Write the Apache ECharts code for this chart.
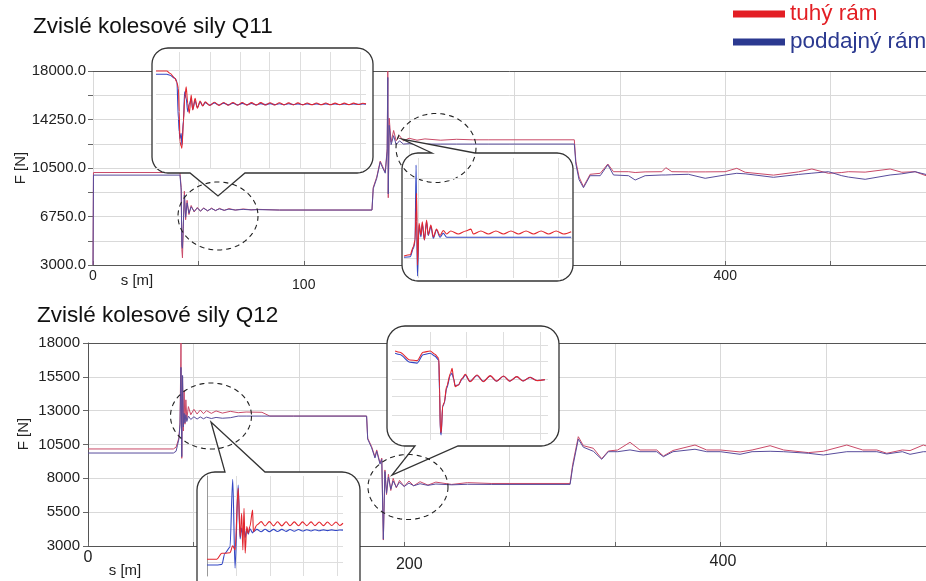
<!DOCTYPE html>
<html><head><meta charset="utf-8">
<script src="https://cdn.jsdelivr.net/npm/echarts@6/dist/echarts.min.js"></script>
<style>html,body{margin:0;padding:0;background:#fff}#c{width:926px;height:581px}</style>
</head><body><div id="c"></div>
<script>
// ---------------- DATA ----------------
// Q11 main chart: s [m], tuhý rám (red), poddajný rám (blue) [N]
const s11 = [0,0.3,55.0,55.8,56.2,56.6,57.1,57.8,58.6,59.5,
 60.7,62.1,64,66,68,70,72.5,75,77.5,80,
 83,86,90,95,100,105,118,176.5,177.3,179.5,
 181.7,183.3,184.9,186.1,186.5,186.8,187.4,188.6,190.2,191.8,
 193.9,196.4,200,205,210,220,230,240,250,304.5,
 305.5,307.5,310.3,314.5,320.9,325.7,329.3,338.8,343.0,349.3,
 359.9,362.4,366.2,376.7,387.3,399.9,407.3,412.6,430.5,446.3,
 454.8,465.3,473.7,477.9,488.5,504.3,511.7,520.1,527];
const red11 = [3000,10150,10150,9000,4200,3550,5800,8700,6500,8000,
 6900,7600,7100,7450,7150,7420,7180,7400,7200,7380,
 7220,7360,7250,7330,7270,7300,7250,7250,9000,9800,
 11040,10600,10190,12000,18000,8200,14350,12500,13400,12600,
 13000,12600,12800,12650,12750,12650,12720,12680,12680,12680,
 11000,9800,9054,10013,10090,10809,10214,10214,10150,10200,
 10214,10523,10214,10200,10200,10214,10477,10170,9950,10200,
 10423,10090,10150,10214,10180,10423,10170,10214,9905];
const blue11 = [3000,9950,9950,8800,4500,4300,6000,8400,6700,7800,
 7000,7500,7150,7400,7180,7380,7200,7360,7220,7340,
 7230,7320,7250,7300,7260,7280,7250,7250,8900,9700,
 10950,10500,10100,11800,17500,8500,13800,12300,13000,12300,
 12600,12350,12380,12350,12350,12350,12350,12350,12350,12350,
 10800,9600,8977,9905,9905,10750,9959,9905,9572,9905,
 9959,9959,9980,10013,9703,9959,10090,10050,9781,10000,
 10100,10214,9905,9800,9626,9959,10050,10214,10000];

// Q12 main chart
const s12 = [0,54.0,55.7,56.5,57.5,58.2,58.8,59.3,59.8,60.3,
 60.8,61.3,61.9,62.5,63.5,65,67,69,71,73,
 75,78,81,85,90,95,100,110,115,130,
 176.2,176.9,179.4,181.5,182.6,184.7,185.8,186.8,187.8,188.8,
 190,191.5,193,195,197,200,203,206,210,215,
 220,230,240,255,304.9,306.5,310.1,313.3,319.6,324.9,
 329.1,335,342.8,349.1,359.7,363.9,370,383.9,391.3,400,
 412.4,420,431.4,440,455.6,465.1,479.9,490,498.9,505.2,
 515,519.9,528.3,530];
const red12 = [10170,10170,10300,10600,11000,12100,18000,9480,15500,11500,
 14500,12000,13800,12400,13300,12700,13100,12750,13050,12780,
 13000,12800,12980,12820,12950,12850,12900,12880,12600,12600,
 12600,10960,10340,9600,10100,9130,9500,3440,8620,6800,
 8300,7100,8000,7300,7850,7400,7800,7450,7750,7500,
 7720,7550,7680,7620,7620,9000,11077,10412,10220,9450,
 10020,10094,10663,10094,10094,9650,10060,10463,10094,10094,
 9950,10094,10412,10094,9900,10000,10463,10094,10094,9850,
 10094,10050,10463,10400];
const blue12 = [9870,9870,10000,10400,10900,12000,16200,9600,15600,11800,
 12800,12100,12700,12200,12600,12350,12550,12380,12540,12400,
 12520,12420,12500,12440,12480,12600,12600,12600,12600,12600,
 12600,10900,10250,9500,10000,9050,9400,3500,8500,6900,
 8100,7200,7800,7350,7700,7400,7650,7450,7600,7480,
 7580,7520,7560,7550,7550,8800,10900,10300,10000,9407,
 9968,9968,10100,9968,9968,9599,9968,10150,9968,9968,
 9776,9968,10000,9968,9850,9724,9968,9968,9968,9800,
 9968,9776,9968,9968];

// Inset 1 (Q11, detail around the first drop)
const sIn1 = [50.0,52.8,53.6,54.9,55.4,55.8,56.0,56.2,56.5,56.7,
 57.1,57.4,57.8,58.2,58.6,59.1,59.5,60.1,60.7,61.4,
 62.1,62.7,63.9,65.1,66.3,67.5,68.7,69.9,71.1,72.3,
 73.5,74.7,75.9,77.1,78.3,79.5,80.7,81.9,83.1,84.3,
 85.5,86.7,87.9,89.1,90.3,91.5,92.7,93.9,95.1,96.3,
 97.5,98.7,99.9,101.1,102.3,103.5,104.3];
const redIn1 = [9944,9944,9756,9346,9000,8527,6611,4153,3800,3613,
 5792,7600,8658,7299,6480,7978,6750,7708,6889,7487,
 7077,7430,7120,7380,7130,7370,7140,7360,7140,7360,
 7150,7350,7150,7350,7160,7340,7160,7340,7170,7330,
 7170,7330,7170,7320,7180,7320,7180,7320,7180,7310,
 7190,7310,7190,7310,7200,7300,7250];
const blueIn1 = [9674,9674,9600,9350,9100,6000,4973,4400,4841,3883,
 5950,8249,7700,6611,7200,7708,6800,7500,6950,7400,
 7100,7350,7150,7330,7160,7310,7170,7300,7170,7290,
 7180,7280,7180,7270,7190,7270,7190,7260,7190,7260,
 7200,7250,7200,7250,7200,7250,7200,7250,7200,7240,
 7200,7240,7200,7240,7210,7240,7220];

// Inset 2 (Q11, detail after the rise)
const sIn2 = [181.8,184.1,185.3,185.9,186.3,186.5,186.8,187.4,188.1,188.6,
 189.4,190.2,190.8,191.8,192.7,193.9,195.2,196.4,197.7,199.2,
 202.0,204.8,206.7,207.6,210.4,213.2,216.0,218.8,221.6,224.4,
 227.2,230.0,232.8,235.6,238.4,241.2,244.0];
const redIn2 = [10906,11000,11631,12154,14500,15800,10200,13457,12544,13581,
 12154,13714,12544,13324,12400,13000,12500,12900,12620,12860,
 12620,12860,13000,12620,12860,12620,12860,12620,12860,12620,
 12860,12620,12860,12620,12860,12620,12800];
const blueIn2 = [10805,10850,11500,12000,18004,13600,9346,13300,12400,13400,
 12154,13600,12500,13200,12287,12934,12365,12677,12365,12365,
 12365,12365,12365,12365,12365,12365,12365,12365,12365,12365,
 12365,12365,12365,12365,12365,12365,12365];

// Inset 3 (Q12, detail around the drop)
const sIn3 = [181.0,181.6,182.9,183.8,184.6,185.5,186.1,186.6,186.7,186.8,
 186.9,187.1,187.3,187.6,188.1,188.3,188.5,188.7,189.1,189.6,
 190.0,190.6,191.5,192.3,193.2,194.0,194.9,195.7,196.6,197.4,
 198.3,199.2,200.2];
const redIn3 = [9686,9589,9016,8963,9589,9686,9440,9142,7026,3800,
 3600,5600,5850,7026,8025,8397,7652,7026,7153,7652,
 7950,7399,7898,7399,7846,7429,7823,7429,7771,7451,
 7727,7473,7548];
const blueIn3 = [9515,9420,8850,8780,9400,9520,9300,9000,6500,3700,
 3428,5536,5790,6900,7900,8025,7600,7100,7150,7600,
 7900,7420,7860,7420,7820,7440,7800,7440,7760,7460,
 7720,7480,7540];

// Inset 4 (Q12, detail around the rise)
const sIn4 = [52.2,53.8,54.7,56.0,56.8,58.1,58.8,59.4,60.2,60.7,
 61.1,61.4,61.7,62.0,62.4,62.8,63.2,63.9,64.1,65.0,
 66.1,67.1,68.2,69.3,70.3,71.4,72.5,73.5,74.6,75.7,
 76.7,77.8,78.9,79.9,81.0,82.1,83.1,84.2,85.3,86.3,87.1];
const redIn4 = [10323,10323,10323,10761,10761,10800,11300,11000,15500,11973,
 13681,11002,14046,10761,12703,12221,12703,13922,12338,12827,
 13068,12754,13068,12760,13060,12760,13060,12770,13050,12770,
 13050,12780,13050,12780,13040,12780,13040,12790,13040,12790,12950];
const blueIn4 = [9900,9900,9900,9950,10761,11200,16160,9666,15747,11800,
 12600,12100,12800,11900,12500,12150,12550,12250,12338,12500,
 12330,12510,12340,12500,12350,12500,12360,12490,12370,12490,
 12380,12480,12390,12480,12400,12470,12410,12470,12420,12460,12450];

// Tick / label values
const xStep = 200 / 3;
const xLabelsQ11 = ['0', '', '100', '', '', '', '400', ''];
const xLabelsQ12 = ['0', '', '', '200', '', '', '400', ''];
const yTicksQ11 = [3000, 4875, 6750, 8625, 10500, 12375, 14250, 16125, 18000];
const yLabelsQ11 = [3000, 6750, 10500, 14250, 18000];
const yTicksQ12 = [3000, 5500, 8000, 10500, 13000, 15500, 18000];
const in1XGrid = [55.9, 63.9, 71.7, 79.4, 87.2, 95.0, 102.7];
const in1YGrid = [2000, 4000, 6000, 8000, 10000];
const in2XGrid = [187.1, 205.1, 222.3, 239.0];
const in2YGrid = [10750, 12310, 13870, 15430, 16990];
const in3XGrid = [185.5, 190.1, 194.8, 199.6];
const in3YGrid = [3555, 4918, 6281, 7578, 8889, 10133];
const in4XGrid = [59.8, 68.4, 76.9, 85.5];
const in4YGrid = [10100, 11300, 12500, 13700, 14900];

// ---------------- CHART ----------------
const FONT = '"Liberation Sans", Arial, sans-serif';
const RED_MAIN = '#c94a68', BLUE_MAIN = '#584c9c';
const RED_IN = '#e3262e', BLUE_IN = '#3347c4';
const GRIDC = '#d9d9d9';
const chart = echarts.init(document.getElementById('c'));

const pairs = (s, v) => s.map((x, i) => [x, v[i]]);
const lbl = (arr, styleMap) => (v) => {
  const t = arr[Math.round(v / xStep)];
  if (!t) return '';
  return styleMap[t] ? '{' + styleMap[t] + '|' + t + '}' : t;
};

function mainX(gi, max, labels, styleMap, fs, rich) {
  return {
    type: 'value', gridIndex: gi, min: 0, max: max, interval: xStep,
    axisLine: { show: true, lineStyle: { color: '#555', width: 1 } },
    axisTick: { show: true, inside: true, length: 4, lineStyle: { color: '#666' } },
    splitLine: { show: true, lineStyle: { color: GRIDC } },
    axisLabel: { formatter: lbl(labels, styleMap), margin: 4, fontSize: fs, color: '#222',
      fontFamily: FONT, showMinLabel: true, showMaxLabel: false, rich: rich }
  };
}
function frameX(gi, max) {
  return { type: 'value', gridIndex: gi, min: 0, max: max, position: 'top',
    axisLine: { show: true, lineStyle: { color: '#555' } },
    axisTick: { show: false }, axisLabel: { show: false }, splitLine: { show: false } };
}
function mainY(gi, ticks, labels, fmt, showLine, margin) {
  return {
    type: 'value', gridIndex: gi, min: 3000, max: 18000,
    axisLine: { show: showLine, lineStyle: { color: '#555' } },
    axisTick: { show: true, length: 5, customValues: ticks, lineStyle: { color: '#666' } },
    axisLabel: { customValues: labels, formatter: fmt, margin: margin, fontSize: 15,
      color: '#222', fontFamily: FONT },
    splitLine: { show: true, lineStyle: { color: GRIDC } }
  };
}
function insetAxis(gi, min, max, grid, lineShow) {
  return {
    type: 'value', gridIndex: gi, min: min, max: max, z: 7,
    axisLine: { show: !!lineShow, lineStyle: { color: '#999' } },
    axisTick: { show: false, customValues: grid },
    axisLabel: { show: false },
    splitLine: { show: true, lineStyle: { color: '#dedede' } }
  };
}
function line(name, xi, yi, s, v, color, w, z, smooth) {
  return { type: 'line', name: name, xAxisIndex: xi, yAxisIndex: yi, data: pairs(s, v),
    symbol: 'none', showSymbol: false, smooth: smooth || false, smoothMonotone: 'x',
    lineStyle: { width: w, color: color },
    itemStyle: { color: color }, z: z, silent: true, animation: false };
}

// decorative call-out shapes (speech bubbles and dashed ellipses)
function arcPts(cx, cy, r, a0, a1) {
  const out = [];
  for (let k = 0; k <= 8; k++) {
    const a = (a0 + (a1 - a0) * k / 8) * Math.PI / 180;
    out.push([cx + r * Math.cos(a), cy + r * Math.sin(a)]);
  }
  return out;
}
function bubble(x0, y0, x1, y1, r, topTail, bottomTail) {
  let p = [[x0 + r, y0]];
  if (topTail) p = p.concat(topTail);
  p = p.concat(arcPts(x1 - r, y0 + r, r, -90, 0));
  p = p.concat(arcPts(x1 - r, y1 - r, r, 0, 90));
  if (bottomTail) p = p.concat(bottomTail);
  p = p.concat(arcPts(x0 + r, y1 - r, r, 90, 180));
  p = p.concat(arcPts(x0 + r, y0 + r, r, 180, 270));
  return { type: 'polygon', z: 5, silent: true,
    shape: { points: p }, style: { fill: '#fff', stroke: '#333', lineWidth: 1.3 } };
}
function ellipse(cx, cy, rx, ry) {
  const p = [];
  for (let k = 0; k < 96; k++) {
    const a = k / 96 * 2 * Math.PI;
    p.push([cx + rx * Math.cos(a), cy + ry * Math.sin(a)]);
  }
  return { type: 'polygon', z: 6, silent: true, shape: { points: p },
    style: { fill: 'none', stroke: '#222', lineWidth: 1.1, lineDash: [5, 4] } };
}
const txt = (x, y, text, rot) => ({
  type: 'text', x: x, y: y, rotation: rot || 0, z: 10, silent: true,
  style: { text: text, fontSize: 15, fontFamily: FONT, fill: '#222',
    align: 'center', verticalAlign: 'middle', textAlign: 'center', textVerticalAlign: 'middle' }
});

const option = {
  animation: false,
  backgroundColor: '#fff',
  title: [
    { text: 'Zvislé kolesové sily Q11', left: 33, top: 15, padding: 0,
      textStyle: { fontSize: 22.5, fontWeight: 'normal', color: '#111', fontFamily: FONT } },
    { text: 'Zvislé kolesové sily Q12', left: 37, top: 304, padding: 0,
      textStyle: { fontSize: 22.5, fontWeight: 'normal', color: '#111', fontFamily: FONT } }
  ],
  legend: {
    orient: 'vertical', left: 733, top: 1, padding: 0, itemWidth: 52, itemHeight: 7, itemGap: 2,
    textStyle: { fontSize: 22.5, fontFamily: FONT, lineHeight: 26 },
    data: [
      { name: 'tuhý rám', icon: 'rect', itemStyle: { color: '#e31e24' }, textStyle: { color: '#e31e24' } },
      { name: 'poddajný rám', icon: 'rect', itemStyle: { color: '#2b3990' }, textStyle: { color: '#2b3990' } }
    ]
  },
  grid: [
    { left: 93, top: 71, width: 833, height: 194 },
    { left: 88, top: 343, width: 838, height: 203 },
    { left: 156, top: 52, width: 210, height: 116, z: 7 },
    { left: 404, top: 158, width: 168, height: 120, z: 7 },
    { left: 392, top: 332, width: 156, height: 108, z: 7 },
    { left: 207, top: 476, width: 136, height: 100, z: 7 }
  ],
  xAxis: [
    mainX(0, 527, xLabelsQ11, { '100': 'd' }, 14, { d: { padding: [9, 0, 0, 0] } }),
    mainX(1, 530, xLabelsQ12, { '200': 'e', '400': 'f' }, 16,
      { e: { padding: [7, 0, 0, 10] }, f: { padding: [4, 0, 0, 5] } }),
    frameX(0, 527),
    frameX(1, 530),
    insetAxis(2, 50, 104.3, in1XGrid),
    insetAxis(3, 181.8, 244.3, in2XGrid),
    insetAxis(4, 180.6, 200.6, in3XGrid),
    insetAxis(5, 52.2, 87.1, in4XGrid)
  ],
  yAxis: [
    mainY(0, yTicksQ11, yLabelsQ11, (v) => Number(v).toFixed(1), false, 7),
    mainY(1, yTicksQ12, yTicksQ12, (v) => String(v), true, 8),
    insetAxis(2, 2000, 11500, in1YGrid),
    insetAxis(3, 9190, 18550, in2YGrid),
    insetAxis(4, 3050, 11100, in3YGrid),
    insetAxis(5, 9100, 16400, in4YGrid, true)
  ],
  series: [
    line('tuhý rám', 0, 0, s11, red11, RED_MAIN, 1, 2),
    line('poddajný rám', 0, 0, s11, blue11, BLUE_MAIN, 1, 2),
    line('tuhý rám', 1, 1, s12, red12, RED_MAIN, 1, 2),
    line('poddajný rám', 1, 1, s12, blue12, BLUE_MAIN, 1, 2),
    line('poddajný rám', 4, 2, sIn1, blueIn1, BLUE_IN, 1.1, 8, 0.3),
    line('tuhý rám', 4, 2, sIn1, redIn1, RED_IN, 1.1, 8, 0.3),
    line('poddajný rám', 5, 3, sIn2, blueIn2, BLUE_IN, 1.1, 8, 0.3),
    line('tuhý rám', 5, 3, sIn2, redIn2, RED_IN, 1.1, 8, 0.3),
    line('poddajný rám', 6, 4, sIn3, blueIn3, BLUE_IN, 1.1, 8, 0.3),
    line('tuhý rám', 6, 4, sIn3, redIn3, RED_IN, 1.1, 8, 0.3),
    line('poddajný rám', 7, 5, sIn4, blueIn4, BLUE_IN, 1.1, 8, 0.3),
    line('tuhý rám', 7, 5, sIn4, redIn4, RED_IN, 1.1, 8, 0.3)
  ],
  graphic: [
    bubble(152, 48, 373, 173, 16, null, [[245, 173], [218, 196], [190, 173]]),
    bubble(402, 153, 573, 281, 16, [[432, 153], [402, 139], [475, 153]], null),
    bubble(387, 326, 559, 446, 18, null, [[458, 446], [392, 475], [415, 446]]),
    bubble(197, 472, 360, 620, 18, [[225, 472], [211, 422], [265, 472]], null),
    ellipse(218, 216, 40, 34),
    ellipse(436, 148, 40, 34.5),
    ellipse(408, 487, 40, 32.5),
    ellipse(211, 416, 40.5, 33),
    txt(137, 281, 's [m]'),
    txt(125, 571, 's [m]'),
    txt(21, 168, 'F [N]', Math.PI / 2),
    txt(24, 434, 'F [N]', Math.PI / 2)
  ]
};
chart.setOption(option);
</script></body></html>
